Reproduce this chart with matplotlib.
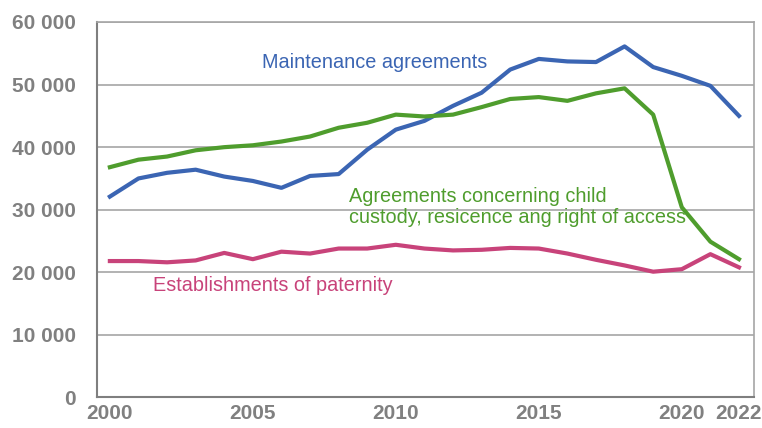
import matplotlib

matplotlib.use("Agg")
import matplotlib.pyplot as plt

years = list(range(2000, 2023))
maintenance = [32100, 35000, 35900, 36400, 35300, 34600, 33500, 35400, 35700, 39600,
               42800, 44200, 46600, 48700, 52400, 54100, 53700, 53600, 56100, 52800,
               51400, 49800, 45000]
custody = [36800, 38000, 38500, 39500, 40000, 40300, 40900, 41700, 43100, 43900,
           45200, 44900, 45200, 46400, 47700, 48000, 47400, 48600, 49400, 45200,
           30400, 24900, 22100]
paternity = [21800, 21800, 21600, 21900, 23100, 22100, 23300, 23000, 23800, 23800,
             24400, 23800, 23500, 23600, 23900, 23800, 23000, 22000, 21100, 20100,
             20500, 22900, 20800]
x_ticks = [2000, 2005, 2010, 2015, 2020, 2022]
y_ticks = [0, 10000, 20000, 30000, 40000, 50000, 60000]

BLUE = "#3b65b3"
GREEN = "#4f9d2d"
PINK = "#c8437a"
GREY = "#808080"

plt.rcParams["font.family"] = ["Liberation Sans", "DejaVu Sans"]

fig = plt.figure(figsize=(7.62, 4.28), dpi=100)
ax = fig.add_axes((0.1273, 0.0713, 0.862, 0.8773))

ax.plot(years, maintenance, color=BLUE, lw=3, solid_joinstyle="round")
ax.plot(years, custody, color=GREEN, lw=3, solid_joinstyle="round")
ax.plot(years, paternity, color=PINK, lw=3, solid_joinstyle="round")

ax.set_xlim(1999.55, 2022.52)
ax.set_ylim(0, 60000)
ax.set_yticks(y_ticks)
ax.set_yticklabels([f"{v:,}".replace(",", " ") for v in y_ticks])
ax.set_xticks(x_ticks)
ax.tick_params(length=0, labelsize=15, labelcolor=GREY)
for lab in ax.get_xticklabels() + ax.get_yticklabels():
    lab.set_fontweight("bold")
ax.tick_params(axis="y", pad=15)
ax.tick_params(axis="x", pad=5)

ax.grid(axis="y", color="#a6a6a6", lw=1.2)
ax.set_axisbelow(True)
for side in ("left", "bottom"):
    ax.spines[side].set_color("#7f7f7f")
    ax.spines[side].set_linewidth(1.5)
for side in ("top", "right"):
    ax.spines[side].set_color("#a6a6a6")
    ax.spines[side].set_linewidth(1.2)

ax.text(2005.32, 53500, "Maintenance agreements", color=BLUE, fontsize=14.3, va="center")
ax.text(2008.36, 30400, "Agreements concerning child\ncustody, resicence ang right of access",
        color=GREEN, fontsize=14.3, va="center", linespacing=1.15)
ax.text(2001.5, 17900, "Establishments of paternity", color=PINK, fontsize=14.3, va="center")

fig.savefig("out.png", dpi=100)
